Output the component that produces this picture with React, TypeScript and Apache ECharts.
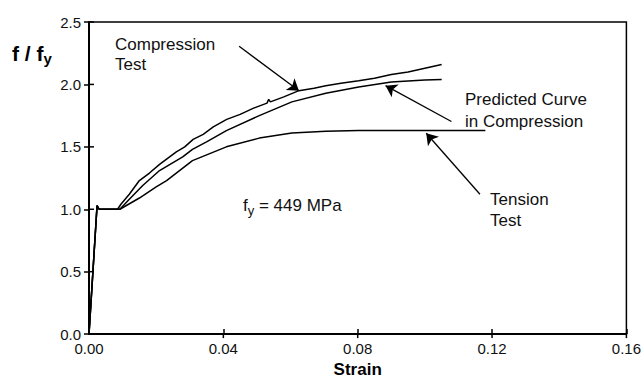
import React, { useEffect, useRef } from "react";
import * as echarts from "echarts";

// Stress-strain data: strain, f/fy
const compressionTest: [number, number][] = [
  [0, 0], [0.0024, 1.03], [0.003, 1.0], [0.0085, 1.0], [0.0095, 1.04], [0.012, 1.12],
  [0.015, 1.23], [0.018, 1.29], [0.021, 1.36], [0.023, 1.4], [0.026, 1.46], [0.0285, 1.5],
  [0.031, 1.56], [0.034, 1.6], [0.037, 1.66], [0.041, 1.72], [0.045, 1.76], [0.049, 1.81],
  [0.053, 1.85], [0.0535, 1.88], [0.054, 1.86], [0.058, 1.9], [0.0625, 1.95], [0.067, 1.97],
  [0.0705, 1.99], [0.075, 2.01], [0.0803, 2.03], [0.085, 2.05], [0.09, 2.08], [0.095, 2.1],
  [0.1, 2.13], [0.105, 2.16],
];
const predictedCompression: [number, number][] = [
  [0, 0], [0.0024, 1.03], [0.003, 1.0], [0.0092, 1.0], [0.012, 1.08], [0.016, 1.19],
  [0.021, 1.31], [0.0279, 1.42], [0.0308, 1.48], [0.035, 1.54], [0.0409, 1.63],
  [0.0507, 1.75], [0.0604, 1.86], [0.0705, 1.93], [0.0803, 1.98], [0.09, 2.02],
  [0.1, 2.035], [0.105, 2.04],
];
const tensionTest: [number, number][] = [
  [0, 0], [0.0024, 1.03], [0.003, 1.0], [0.0092, 1.0], [0.015, 1.09], [0.02, 1.18],
  [0.0231, 1.23], [0.0308, 1.39], [0.0409, 1.5], [0.0507, 1.57], [0.0604, 1.61],
  [0.0705, 1.625], [0.0803, 1.63], [0.09, 1.63], [0.1, 1.63], [0.118, 1.63],
];
// annotation arrows: [from, to] in data coordinates
const arrows: [number, number][][] = [
  [[0.0447, 2.305], [0.0625, 1.95]],
  [[0.1079, 1.703], [0.0883, 1.99]],
  [[0.1164, 1.12], [0.1004, 1.609]],
];
const xMin = 0, xMax = 0.16, xStep = 0.04;
const yMin = 0, yMax = 2.5, yStep = 0.5;
const xTickVals = [0.04, 0.08, 0.12, 0.16];
const yTickVals = [0, 0.5, 1.0, 1.5, 2.0, 2.5];

const FONT = "'Liberation Sans', Arial, sans-serif";

export default function App() {
  const ref = useRef<HTMLDivElement>(null);
  useEffect(() => {
    const chart = echarts.init(ref.current!, null, { renderer: "svg" });
    const lineStyle = { color: "#000", width: 1.5 };
    const ann = (text: string, x: number, y: number) => ({
      type: "text", left: x, top: y,
      style: { text, font: `17px ${FONT}`, fill: "#111" },
    });
    chart.setOption({
      animation: false,
      backgroundColor: "#fff",
      grid: { left: 89, top: 22, right: 15, bottom: 44 },
      xAxis: {
        type: "value", min: xMin, max: xMax, interval: xStep,
        name: "Strain", nameLocation: "middle", nameGap: 19,
        nameTextStyle: { fontFamily: FONT, fontWeight: "bold", fontSize: 17, color: "#000" },
        axisLine: { show: true, onZero: false, lineStyle: { color: "#000", width: 2 } },
        axisTick: { show: true, length: 5, inside: true, lineStyle: { color: "#000", width: 1.5 } },
        axisLabel: { fontFamily: FONT, fontSize: 15, color: "#111", margin: 7, showMaxLabel: true,
          formatter: (v: number) => v.toFixed(2) },
        splitLine: { show: false },
      },
      yAxis: {
        type: "value", min: yMin, max: yMax, interval: yStep,
        axisLine: { show: true, onZero: false, lineStyle: { color: "#000", width: 2 } },
        axisTick: { show: true, length: 5, lineStyle: { color: "#000", width: 1.5 } },
        axisLabel: { fontFamily: FONT, fontSize: 15, color: "#111", margin: 8,
          formatter: (v: number) => v.toFixed(1) },
        splitLine: { show: false },
      },
      series: [
        {
          type: "custom", silent: true, clip: false, z: 20,
          data: [[xMin, yMin]],
          renderItem: (_params: any, api: any) => {
            const tl = api.coord([xMin, yMax]);
            const tr = api.coord([xMax, yMax]);
            const br = api.coord([xMax, yMin]);
            const children: any[] = [
              { type: "polyline", shape: { points: [tl, tr, br] },
                style: { stroke: "#000", lineWidth: 1.5, fill: null } },
            ];
            yTickVals.forEach((v) => {
              const p = api.coord([xMin, v]);
              children.push({ type: "line", shape: { x1: p[0], y1: p[1], x2: p[0] + 5, y2: p[1] },
                style: { stroke: "#000", lineWidth: 1.5 } });
            });
            xTickVals.forEach((v) => {
              const p = api.coord([v, yMin]);
              children.push({ type: "line", shape: { x1: p[0], y1: p[1], x2: p[0], y2: p[1] + 4 },
                style: { stroke: "#000", lineWidth: 1.5 } });
            });
            return { type: "group", children };
          },
        },
        { type: "line", name: "Compression Test", data: compressionTest, symbol: "none", lineStyle },
        { type: "line", name: "Predicted Curve in Compression", data: predictedCompression, symbol: "none", lineStyle },
        { type: "line", name: "Tension Test", data: tensionTest, symbol: "none", lineStyle },
        {
          type: "lines", coordinateSystem: "cartesian2d", clip: false,
          symbol: ["none", "arrow"], symbolSize: [7, 11],
          lineStyle: { color: "#000", width: 1.3, opacity: 1 },
          data: arrows.map((c) => ({ coords: c })),
        },
      ],
      graphic: [
        {
          type: "text", left: 12, top: 43,
          style: {
            text: "{m|f / f}{s|y}",
            rich: {
              m: { font: `bold 21px ${FONT}`, fill: "#000" },
              s: { font: `bold 15px ${FONT}`, fill: "#000", padding: [10, 0, 0, 0] },
            },
          },
        },
        ann("Compression", 115, 36),
        ann("Test", 115, 56),
        ann("Predicted Curve", 465, 91),
        ann("in Compression", 465, 113),
        ann("Tension", 490, 191),
        ann("Test", 490, 212),
        {
          type: "text", left: 243, top: 197,
          style: {
            text: "{m|f}{s|y}{m| = 449 MPa}",
            rich: {
              m: { font: `17px ${FONT}`, fill: "#111" },
              s: { font: `13px ${FONT}`, fill: "#111", padding: [9, 0, 0, 0] },
            },
          },
        },
      ],
    });
    return () => chart.dispose();
  }, []);
  return <div ref={ref} style={{ position: "fixed", left: 0, top: 0, width: 644, height: 383 }} />;
}
